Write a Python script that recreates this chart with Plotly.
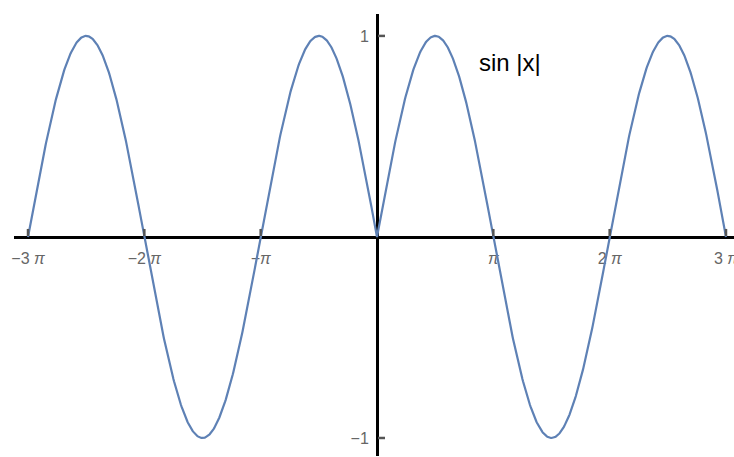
import numpy as np
import plotly.graph_objects as go

# Plot of sin|x| on [-3π, 3π]
x_start, x_end = -3 * np.pi, 3 * np.pi
x_vals = np.linspace(x_start, x_end, 1201)
y_vals = np.sin(np.abs(x_vals))

x_tick_vals = [-3 * np.pi, -2 * np.pi, -np.pi, np.pi, 2 * np.pi, 3 * np.pi]
x_tick_text = ["\u22123 <i>\u03c0</i>", "\u22122 <i>\u03c0</i>", "\u2212<i>\u03c0</i>",
               "<i>\u03c0</i>", "2 <i>\u03c0</i>", "3 <i>\u03c0</i>"]
y_tick_vals = [-1, 1]
y_tick_text = ["\u22121", "1"]

curve_color = "#5E81B5"
tick_color = "#555555"

fig = go.Figure()
fig.add_trace(go.Scatter(x=x_vals, y=y_vals, mode="lines",
                         line=dict(color=curve_color, width=2.2),
                         hoverinfo="skip", showlegend=False))

x_range = [-9.803, 9.641]
y_range = [-1.0896, 1.109]

# axes cross at the origin
x_axis_pos = (0 - y_range[0]) / (y_range[1] - y_range[0])
y_axis_pos = (0 - x_range[0]) / (x_range[1] - x_range[0])

# short tick marks sitting on the positive side of each axis
shapes = []
for xv in x_tick_vals:
    shapes.append(dict(type="line", xref="x", yref="y", ysizemode="pixel", yanchor=0,
                       x0=xv, x1=xv, y0=1, y1=8,
                       line=dict(color=tick_color, width=2.5), layer="above"))
for yv in y_tick_vals:
    shapes.append(dict(type="line", xref="x", yref="y", xsizemode="pixel", xanchor=0,
                       x0=1, x1=8, y0=yv, y1=yv,
                       line=dict(color=tick_color, width=2.5), layer="above"))

fig.update_layout(
    width=734, height=457,
    margin=dict(l=14, r=0, t=14, b=1, autoexpand=False),
    paper_bgcolor="white", plot_bgcolor="white",
    font=dict(family="Liberation Sans, Arial, sans-serif"),
    xaxis=dict(range=x_range, anchor="free", position=x_axis_pos,
               showline=True, linecolor="black", linewidth=3,
               showgrid=False, zeroline=False, automargin=False,
               tickmode="array", tickvals=x_tick_vals, ticktext=x_tick_text,
               ticks="", ticklabelstandoff=6, ticklabeloverflow="allow",
               tickfont=dict(size=16, color="#666666"),
               layer="below traces"),
    yaxis=dict(range=y_range, anchor="free", position=y_axis_pos,
               showline=True, linecolor="black", linewidth=3,
               showgrid=False, zeroline=False, automargin=False,
               tickmode="array", tickvals=y_tick_vals, ticktext=y_tick_text,
               ticks="", ticklabelstandoff=4, ticklabeloverflow="allow",
               tickfont=dict(size=16, color="#666666"),
               layer="below traces"),
    shapes=shapes,
    annotations=[dict(x=3.59, y=0.87, xref="x", yref="y", text="sin |x|",
                      showarrow=False, font=dict(size=24, color="black"),
                      xanchor="center", yanchor="middle")],
)

fig.write_html("out.html")
